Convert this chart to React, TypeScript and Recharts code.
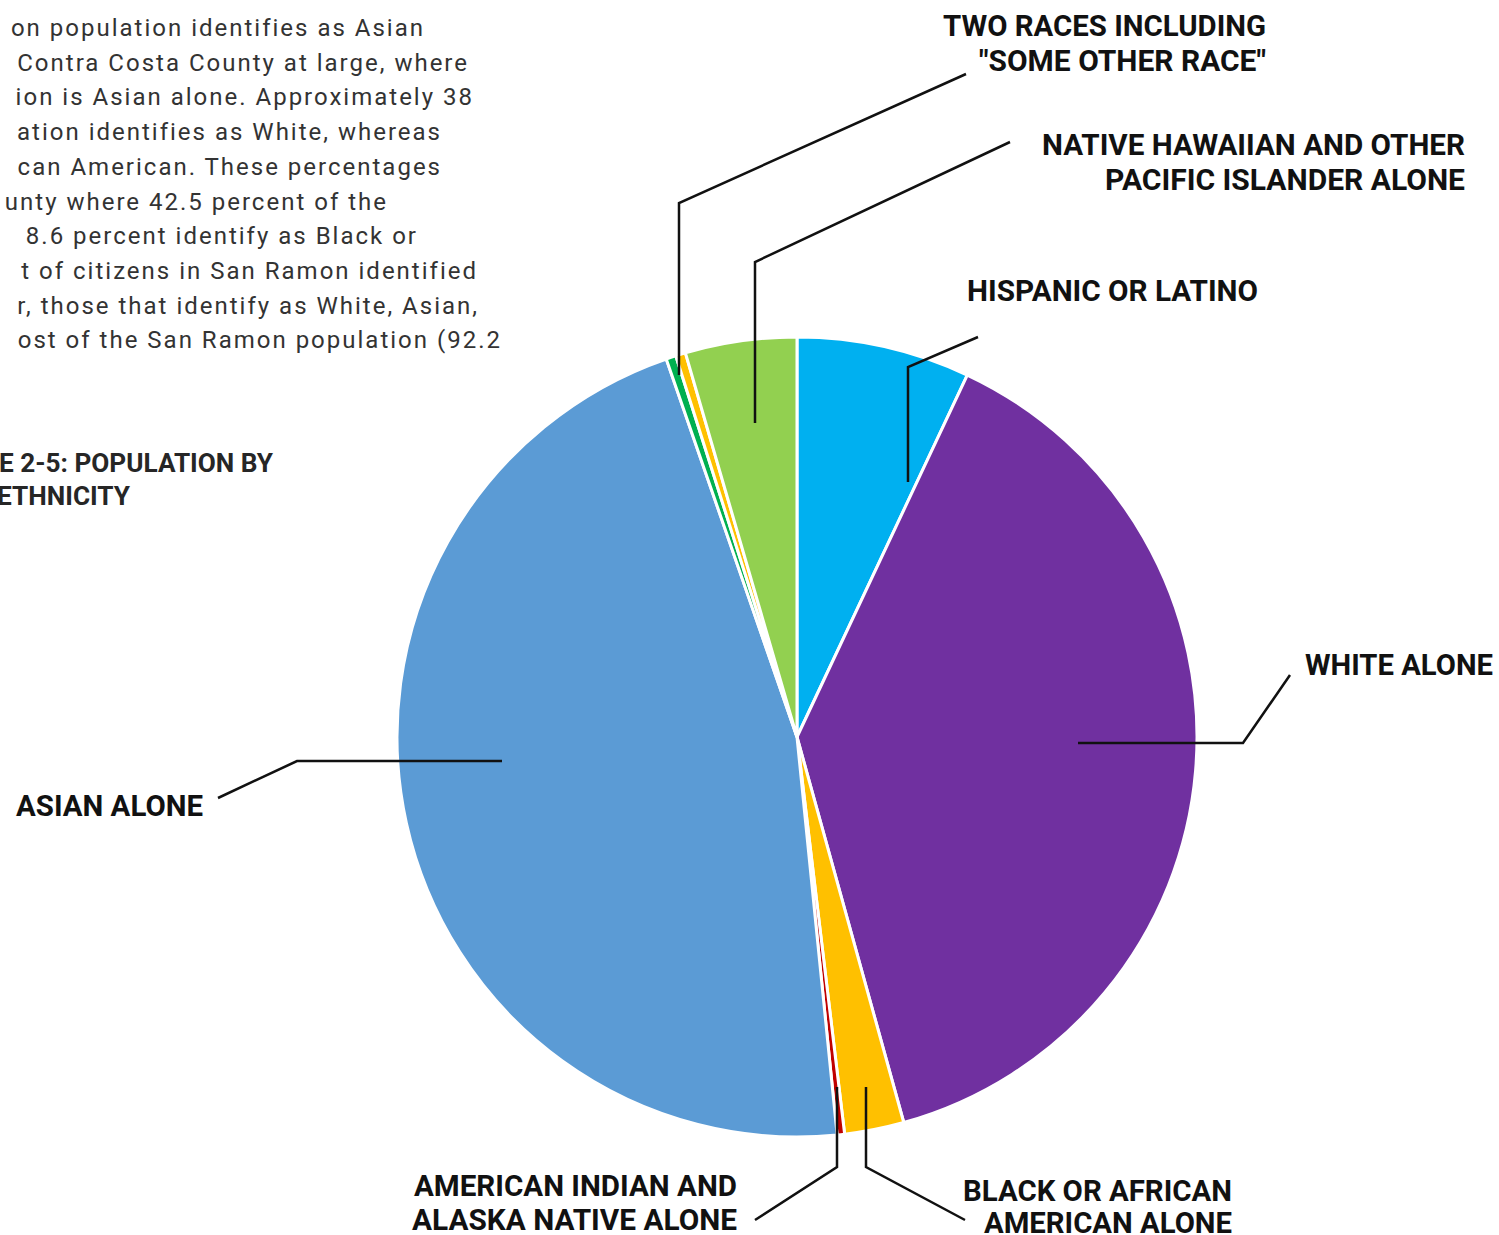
import { PieChart, Pie, Cell, Customized } from 'recharts'

// slice order runs clockwise from 12 o'clock
const categories = [
  'Hispanic or Latino',
  'White alone',
  'Black or African American alone',
  'American Indian and Alaska Native alone',
  'Asian alone',
  'Some other race alone',
  'Two races including "Some other race"',
  'Native Hawaiian and other Pacific Islander alone',
]
const shares = [7.0, 38.7, 2.4, 0.3, 46.3, 0.4, 0.4, 4.5]
const sliceColors = ['#00B0F0', '#7030A0', '#FFC000', '#C00000', '#5B9BD5', '#00B050', '#FFC000', '#92D050']

const paragraphLines = [
  'on population identifies as Asian',
  'Contra Costa County at large, where',
  'ion is Asian alone. Approximately 38',
  'ation identifies as White, whereas',
  'can American. These percentages',
  'unty where 42.5 percent of the',
  '8.6 percent identify as Black or',
  't of citizens in San Ramon identified',
  'r, those that identify as White, Asian,',
  'ost of the San Ramon population (92.2',
]
const paragraphRightEdges = [423, 467, 472, 440, 440, 386, 416, 476, 477, 500]
const titleLines = ['E 2-5: POPULATION BY', 'ETHNICITY']

const data = categories.map((name, i) => ({ name, value: shares[i] }))

// leader lines and label text, offsets from the pie centre
type LabelLayout = {
  lines: string[]
  points: [number, number][]
  x: number
  ys: number[]
  widths: number[]
  anchor: 'start' | 'end'
}

const labelLayout: Record<string, LabelLayout> = {
  'Hispanic or Latino': {
    lines: ['HISPANIC OR LATINO'],
    points: [[111, -255], [111, -370], [181, -400]],
    x: 461, ys: [-436], widths: [291], anchor: 'end',
  },
  'White alone': {
    lines: ['WHITE ALONE'],
    points: [[281, 6], [446, 6], [493, -62]],
    x: 508, ys: [-62], widths: [188], anchor: 'start',
  },
  'Black or African American alone': {
    lines: ['BLACK OR AFRICAN', 'AMERICAN ALONE'],
    points: [[69, 350], [69, 430], [168, 483]],
    x: 435, ys: [464, 496], widths: [269, 248], anchor: 'end',
  },
  'American Indian and Alaska Native alone': {
    lines: ['AMERICAN INDIAN AND', 'ALASKA NATIVE ALONE'],
    points: [[40, 350], [40, 430], [-42, 483]],
    x: -60, ys: [459, 493], widths: [323, 325], anchor: 'end',
  },
  'Asian alone': {
    lines: ['ASIAN ALONE'],
    points: [[-295, 24], [-500, 24], [-579, 61]],
    x: -594, ys: [79], widths: [187], anchor: 'end',
  },
  'Two races including "Some other race"': {
    lines: ['TWO RACES INCLUDING', '"SOME OTHER RACE"'],
    points: [[-118, -362], [-118, -534], [169, -663]],
    x: 469, ys: [-701, -666], widths: [323, 287], anchor: 'end',
  },
  'Native Hawaiian and other Pacific Islander alone': {
    lines: ['NATIVE HAWAIIAN AND OTHER', 'PACIFIC ISLANDER ALONE'],
    points: [[-42, -314], [-42, -475], [213, -595]],
    x: 668, ys: [-582, -547], widths: [423, 360], anchor: 'end',
  },
}

function SliceLabel(props: any) {
  const { cx, cy, name } = props
  const layout = labelLayout[name]
  if (!layout) return null
  const pts = layout.points.map(([dx, dy]) => `${cx + dx},${cy + dy}`).join(' ')
  return (
    <g>
      <polyline points={pts} fill="none" stroke="#111" strokeWidth={2.5} />
      {layout.lines.map((line, i) => (
        <text
          key={line}
          x={cx + layout.x}
          y={cy + layout.ys[i]}
          textAnchor={layout.anchor}
          fontFamily="Roboto, sans-serif"
          fontWeight={700}
          fontSize={29}
          fill="#111"
          textLength={layout.widths[i]}
          lengthAdjust="spacingAndGlyphs"
        >
          {line}
        </text>
      ))}
    </g>
  )
}

function Annotations() {
  return (
    <g fontFamily="Roboto, sans-serif">
      {paragraphLines.map((line, i) => (
        <text
          key={i}
          x={paragraphRightEdges[i] + 2}
          y={36 + i * 34.7}
          textAnchor="end"
          fontSize={24}
          letterSpacing={2}
          fill="#333"
        >
          {line}
        </text>
      ))}
      <text x={-1} y={472} fontSize={25} fontWeight={700} fill="#262626" textLength={274} lengthAdjust="spacingAndGlyphs">
        {titleLines[0]}
      </text>
      <text x={-3} y={505} fontSize={25} fontWeight={700} fill="#262626" textLength={133} lengthAdjust="spacingAndGlyphs">
        {titleLines[1]}
      </text>
    </g>
  )
}

export default function App() {
  return (
    <div style={{ position: 'absolute', left: 0, top: 0, width: 1499, height: 1235, background: '#fff' }}>
      <PieChart width={1499} height={1235} margin={{ top: 0, right: 0, bottom: 0, left: 0 }}>
        <Customized component={Annotations} />
        <Pie
          data={data}
          dataKey="value"
          nameKey="name"
          cx={797}
          cy={737}
          outerRadius={400}
          startAngle={90}
          endAngle={-270}
          stroke="#fff"
          strokeWidth={3}
          label={SliceLabel}
          labelLine={false}
          isAnimationActive={false}
        >
          {data.map((d, i) => (
            <Cell key={d.name} fill={sliceColors[i]} />
          ))}
        </Pie>
      </PieChart>
    </div>
  )
}
